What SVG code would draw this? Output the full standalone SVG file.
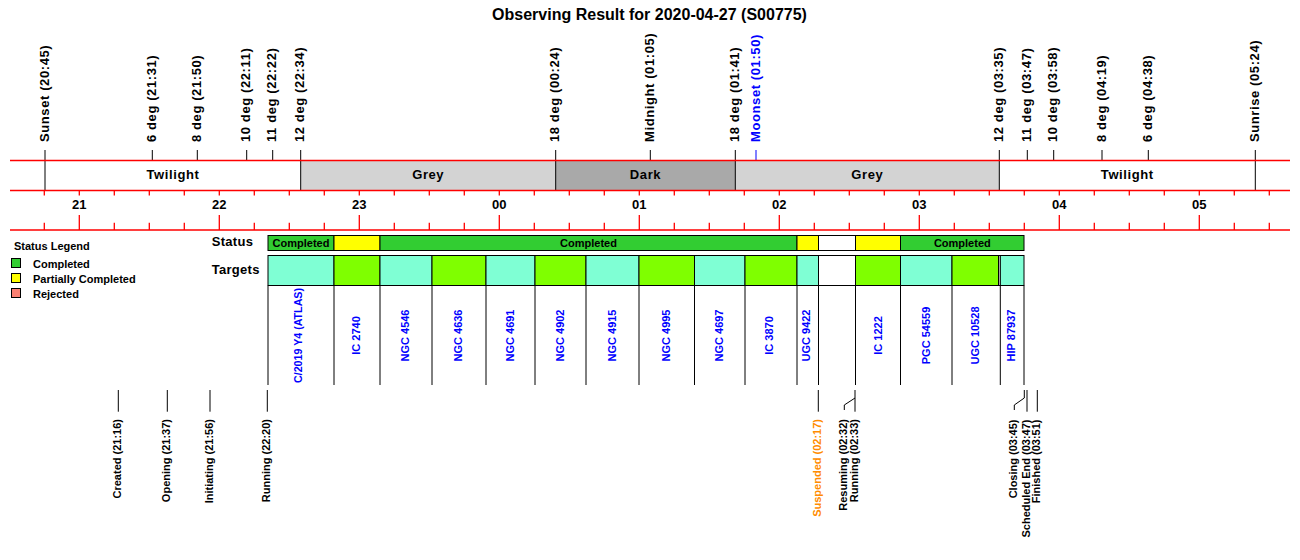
<svg xmlns="http://www.w3.org/2000/svg" width="1300" height="560" viewBox="0 0 1300 560">
<style>
text{font-family:"Liberation Sans",Arial,sans-serif;font-weight:bold;fill:#000}
.title{font-size:16px}
.tl{font-size:13px;letter-spacing:0.6px}
.band{font-size:13px;letter-spacing:0.6px;text-anchor:middle}
.hr{font-size:13px;text-anchor:middle}
.lg{font-size:11px}
.rl{font-size:13px;letter-spacing:0.3px}
.st{font-size:11px;text-anchor:middle}
.tg{font-size:11px;text-anchor:middle;fill:#0000FF}
.ev{font-size:11px;text-anchor:end}
.red{stroke:#FF0000;stroke-width:1.3;fill:none}
.blk{stroke:#000;stroke-width:1;fill:none}
.seg{stroke:#000;stroke-width:1}
.g{fill:#32CD32}.y{fill:#FFFF00}.w{fill:#FFFFFF}.aq{fill:#7FFFD4}.ch{fill:#7FFF00}
</style>
<rect width="1300" height="560" fill="#fff"/>
<g id="title"><text class="title" x="649.5" y="20" text-anchor="middle">Observing Result for 2020-04-27 (S00775)</text></g>

<g id="sky-band">
<rect x="300.7" y="160.5" width="255" height="30" fill="#D3D3D3"/>
<rect x="555.7" y="160.5" width="179.6" height="30" fill="#A9A9A9"/>
<rect x="735.3" y="160.5" width="264" height="30" fill="#D3D3D3"/>
<text class="band" x="173" y="178.5">Twilight</text>
<text class="band" x="428.2" y="178.5">Grey</text>
<text class="band" x="645.5" y="178.5">Dark</text>
<text class="band" x="867.3" y="178.5">Grey</text>
<text class="band" x="1127.3" y="178.5">Twilight</text>
</g>

<g id="sky-events">
<path class="blk" d="M45 150V190.5M152.3 150V160.5M197.3 150V160.5M246.7 150V160.5M272.7 150V160.5M300.7 150V190.5M555.7 150V190.5M650.3 150V160.5M735.3 150V190.5M999.3 150V190.5M1027.3 150V160.5M1053.7 150V160.5M1102 150V160.5M1148.3 150V160.5M1255.3 150V190.5"/>
<path d="M756 150V160.5" stroke="#0000FF" stroke-width="1" fill="none"/>
<text class="tl" transform="translate(48.5,142) rotate(-90)">Sunset (20:45)</text>
<text class="tl" transform="translate(155.8,142) rotate(-90)">6 deg (21:31)</text>
<text class="tl" transform="translate(200.8,142) rotate(-90)">8 deg (21:50)</text>
<text class="tl" transform="translate(250.2,142) rotate(-90)">10 deg (22:11)</text>
<text class="tl" transform="translate(276.2,142) rotate(-90)">11 deg (22:22)</text>
<text class="tl" transform="translate(304.2,142) rotate(-90)">12 deg (22:34)</text>
<text class="tl" transform="translate(559.2,142) rotate(-90)">18 deg (00:24)</text>
<text class="tl" transform="translate(653.8,142) rotate(-90)">Midnight (01:05)</text>
<text class="tl" transform="translate(738.8,142) rotate(-90)">18 deg (01:41)</text>
<text class="tl" transform="translate(759.5,142) rotate(-90)" style="fill:#0000FF">Moonset (01:50)</text>
<text class="tl" transform="translate(1002.8,142) rotate(-90)">12 deg (03:35)</text>
<text class="tl" transform="translate(1030.8,142) rotate(-90)">11 deg (03:47)</text>
<text class="tl" transform="translate(1057.2,142) rotate(-90)">10 deg (03:58)</text>
<text class="tl" transform="translate(1105.5,142) rotate(-90)">8 deg (04:19)</text>
<text class="tl" transform="translate(1151.8,142) rotate(-90)">6 deg (04:38)</text>
<text class="tl" transform="translate(1258.8,142) rotate(-90)">Sunrise (05:24)</text>
</g>

<g id="time-axis">
<path class="red" d="M10 160.5H1290M10 190.5H1290M10 230H1290"/>
<path class="red" d="M44.3 190.5v5M79.3 190.5v5M114.3 190.5v5M149.3 190.5v5M184.3 190.5v5M219.3 190.5v5M254.3 190.5v5M289.3 190.5v5M324.3 190.5v5M359.3 190.5v5M394.3 190.5v5M429.3 190.5v5M464.3 190.5v5M499.3 190.5v5M534.3 190.5v5M569.3 190.5v5M604.3 190.5v5M639.3 190.5v5M674.3 190.5v5M709.3 190.5v5M744.3 190.5v5M779.3 190.5v5M814.3 190.5v5M849.3 190.5v5M884.3 190.5v5M919.3 190.5v5M954.3 190.5v5M989.3 190.5v5M1024.3 190.5v5M1059.3 190.5v5M1094.3 190.5v5M1129.3 190.5v5M1164.3 190.5v5M1199.3 190.5v5M1234.3 190.5v5M1269.3 190.5v5"/>
<path class="red" d="M44.3 222.7V230M114.3 222.7V230M149.3 222.7V230M184.3 222.7V230M254.3 222.7V230M289.3 222.7V230M324.3 222.7V230M394.3 222.7V230M429.3 222.7V230M464.3 222.7V230M534.3 222.7V230M569.3 222.7V230M604.3 222.7V230M674.3 222.7V230M709.3 222.7V230M744.3 222.7V230M814.3 222.7V230M849.3 222.7V230M884.3 222.7V230M954.3 222.7V230M989.3 222.7V230M1024.3 222.7V230M1094.3 222.7V230M1129.3 222.7V230M1164.3 222.7V230M1234.3 222.7V230M1269.3 222.7V230"/>
<path class="red" d="M79.3 215V230M219.3 215V230M359.3 215V230M499.3 215V230M639.3 215V230M779.3 215V230M919.3 215V230M1059.3 215V230M1199.3 215V230"/>
<text class="hr" x="79.3" y="209">21</text>
<text class="hr" x="219.3" y="209">22</text>
<text class="hr" x="359.3" y="209">23</text>
<text class="hr" x="499.3" y="209">00</text>
<text class="hr" x="639.3" y="209">01</text>
<text class="hr" x="779.3" y="209">02</text>
<text class="hr" x="919.3" y="209">03</text>
<text class="hr" x="1059.3" y="209">04</text>
<text class="hr" x="1199.3" y="209">05</text>
</g>

<g id="legend">
<text class="lg" x="14" y="250">Status Legend</text>
<rect class="seg g" x="11.5" y="258.5" width="9" height="9"/>
<rect class="seg y" x="11.5" y="273.5" width="9" height="9"/>
<rect class="seg" x="11.5" y="288.5" width="9" height="9" fill="#FA8072"/>
<text class="lg" x="33" y="267.5">Completed</text>
<text class="lg" x="33" y="282.5">Partially Completed</text>
<text class="lg" x="33" y="297.5">Rejected</text>
</g>

<g id="status">
<text class="rl" x="211.7" y="246">Status</text>
<rect class="seg g" x="268" y="235.5" width="66" height="15"/>
<rect class="seg y" x="334" y="235.5" width="46" height="15"/>
<rect class="seg g" x="380" y="235.5" width="417" height="15"/>
<rect class="seg y" x="797" y="235.5" width="21.5" height="15"/>
<rect class="seg w" x="818.5" y="235.5" width="37" height="15"/>
<rect class="seg y" x="855.5" y="235.5" width="45" height="15"/>
<rect class="seg g" x="900.5" y="235.5" width="123.5" height="15"/>
<text class="st" x="301" y="246.5">Completed</text>
<text class="st" x="588.5" y="246.5">Completed</text>
<text class="st" x="962.3" y="246.5">Completed</text>
</g>

<g id="targets">
<text class="rl" x="211.7" y="273.5">Targets</text>
<rect class="seg aq" x="268" y="255.5" width="66" height="30"/>
<rect class="seg ch" x="334" y="255.5" width="46" height="30"/>
<rect class="seg aq" x="380" y="255.5" width="52" height="30"/>
<rect class="seg ch" x="432" y="255.5" width="54" height="30"/>
<rect class="seg aq" x="486" y="255.5" width="49" height="30"/>
<rect class="seg ch" x="535" y="255.5" width="51" height="30"/>
<rect class="seg aq" x="586" y="255.5" width="53" height="30"/>
<rect class="seg ch" x="639" y="255.5" width="55.5" height="30"/>
<rect class="seg aq" x="694.5" y="255.5" width="50.5" height="30"/>
<rect class="seg ch" x="745" y="255.5" width="52" height="30"/>
<rect class="seg aq" x="797" y="255.5" width="21.5" height="30"/>
<rect class="seg w" x="818.5" y="255.5" width="37" height="30"/>
<rect class="seg ch" x="855.5" y="255.5" width="45" height="30"/>
<rect class="seg aq" x="900.5" y="255.5" width="51.5" height="30"/>
<rect class="seg ch" x="952" y="255.5" width="46.5" height="30"/>
<rect class="seg w" x="998.5" y="255.5" width="1.8" height="30"/>
<rect class="seg aq" x="1000.3" y="255.5" width="23.7" height="30"/>
<path class="blk" d="M268 285.5V385M334 285.5V385M380 285.5V385M432 285.5V385M486 285.5V385M535 285.5V385M586 285.5V385M639 285.5V385M694.5 285.5V385M745 285.5V385M797 285.5V385M818.5 285.5V385M855.5 285.5V385M900.5 285.5V385M952 285.5V385M1000.3 285.5V385M1024 285.5V385"/>
<text class="tg" transform="translate(302,335.5) rotate(-90)" textLength="95" lengthAdjust="spacingAndGlyphs">C/2019 Y4 (ATLAS)</text>
<text class="tg" transform="translate(360,335.5) rotate(-90)">IC 2740</text>
<text class="tg" transform="translate(409,335.5) rotate(-90)">NGC 4546</text>
<text class="tg" transform="translate(462,335.5) rotate(-90)">NGC 4636</text>
<text class="tg" transform="translate(513.5,335.5) rotate(-90)">NGC 4691</text>
<text class="tg" transform="translate(563.5,335.5) rotate(-90)">NGC 4902</text>
<text class="tg" transform="translate(615.5,335.5) rotate(-90)">NGC 4915</text>
<text class="tg" transform="translate(669.7,335.5) rotate(-90)">NGC 4995</text>
<text class="tg" transform="translate(722.7,335.5) rotate(-90)">NGC 4697</text>
<text class="tg" transform="translate(773,335.5) rotate(-90)">IC 3870</text>
<text class="tg" transform="translate(810.2,335.5) rotate(-90)">UGC 9422</text>
<text class="tg" transform="translate(881.5,335.5) rotate(-90)">IC 1222</text>
<text class="tg" transform="translate(929.7,335.5) rotate(-90)">PGC 54559</text>
<text class="tg" transform="translate(978.7,335.5) rotate(-90)">UGC 10528</text>
<text class="tg" transform="translate(1015.2,335.5) rotate(-90)">HIP 87937</text>
</g>

<g id="run-events">
<path class="blk" d="M118.3 390V411.7M167.3 390V411.7M210 390V411.7M267.3 390V411.7M818.3 390V411.7M855 390V411.7M855 398L844.3 405V410M1024.3 390V398L1014.3 405V410M1027 390V411.7M1037.3 390V411.7"/>
<text class="ev" transform="translate(121.3,419) rotate(-90)">Created (21:16)</text>
<text class="ev" transform="translate(170.3,419) rotate(-90)">Opening (21:37)</text>
<text class="ev" transform="translate(213,419) rotate(-90)">Initiating (21:56)</text>
<text class="ev" transform="translate(270.3,419) rotate(-90)">Running (22:20)</text>
<text class="ev" transform="translate(821.3,419) rotate(-90)" style="fill:#FF8C00">Suspended (02:17)</text>
<text class="ev" transform="translate(847.3,419) rotate(-90)">Resuming (02:32)</text>
<text class="ev" transform="translate(858,419) rotate(-90)">Running (02:33)</text>
<text class="ev" transform="translate(1017.3,419.5) rotate(-90)">Closing (03:45)</text>
<text class="ev" transform="translate(1030,419.5) rotate(-90)">Scheduled End (03:47)</text>
<text class="ev" transform="translate(1040.3,419.5) rotate(-90)">Finished (03:51)</text>
</g>
</svg>
